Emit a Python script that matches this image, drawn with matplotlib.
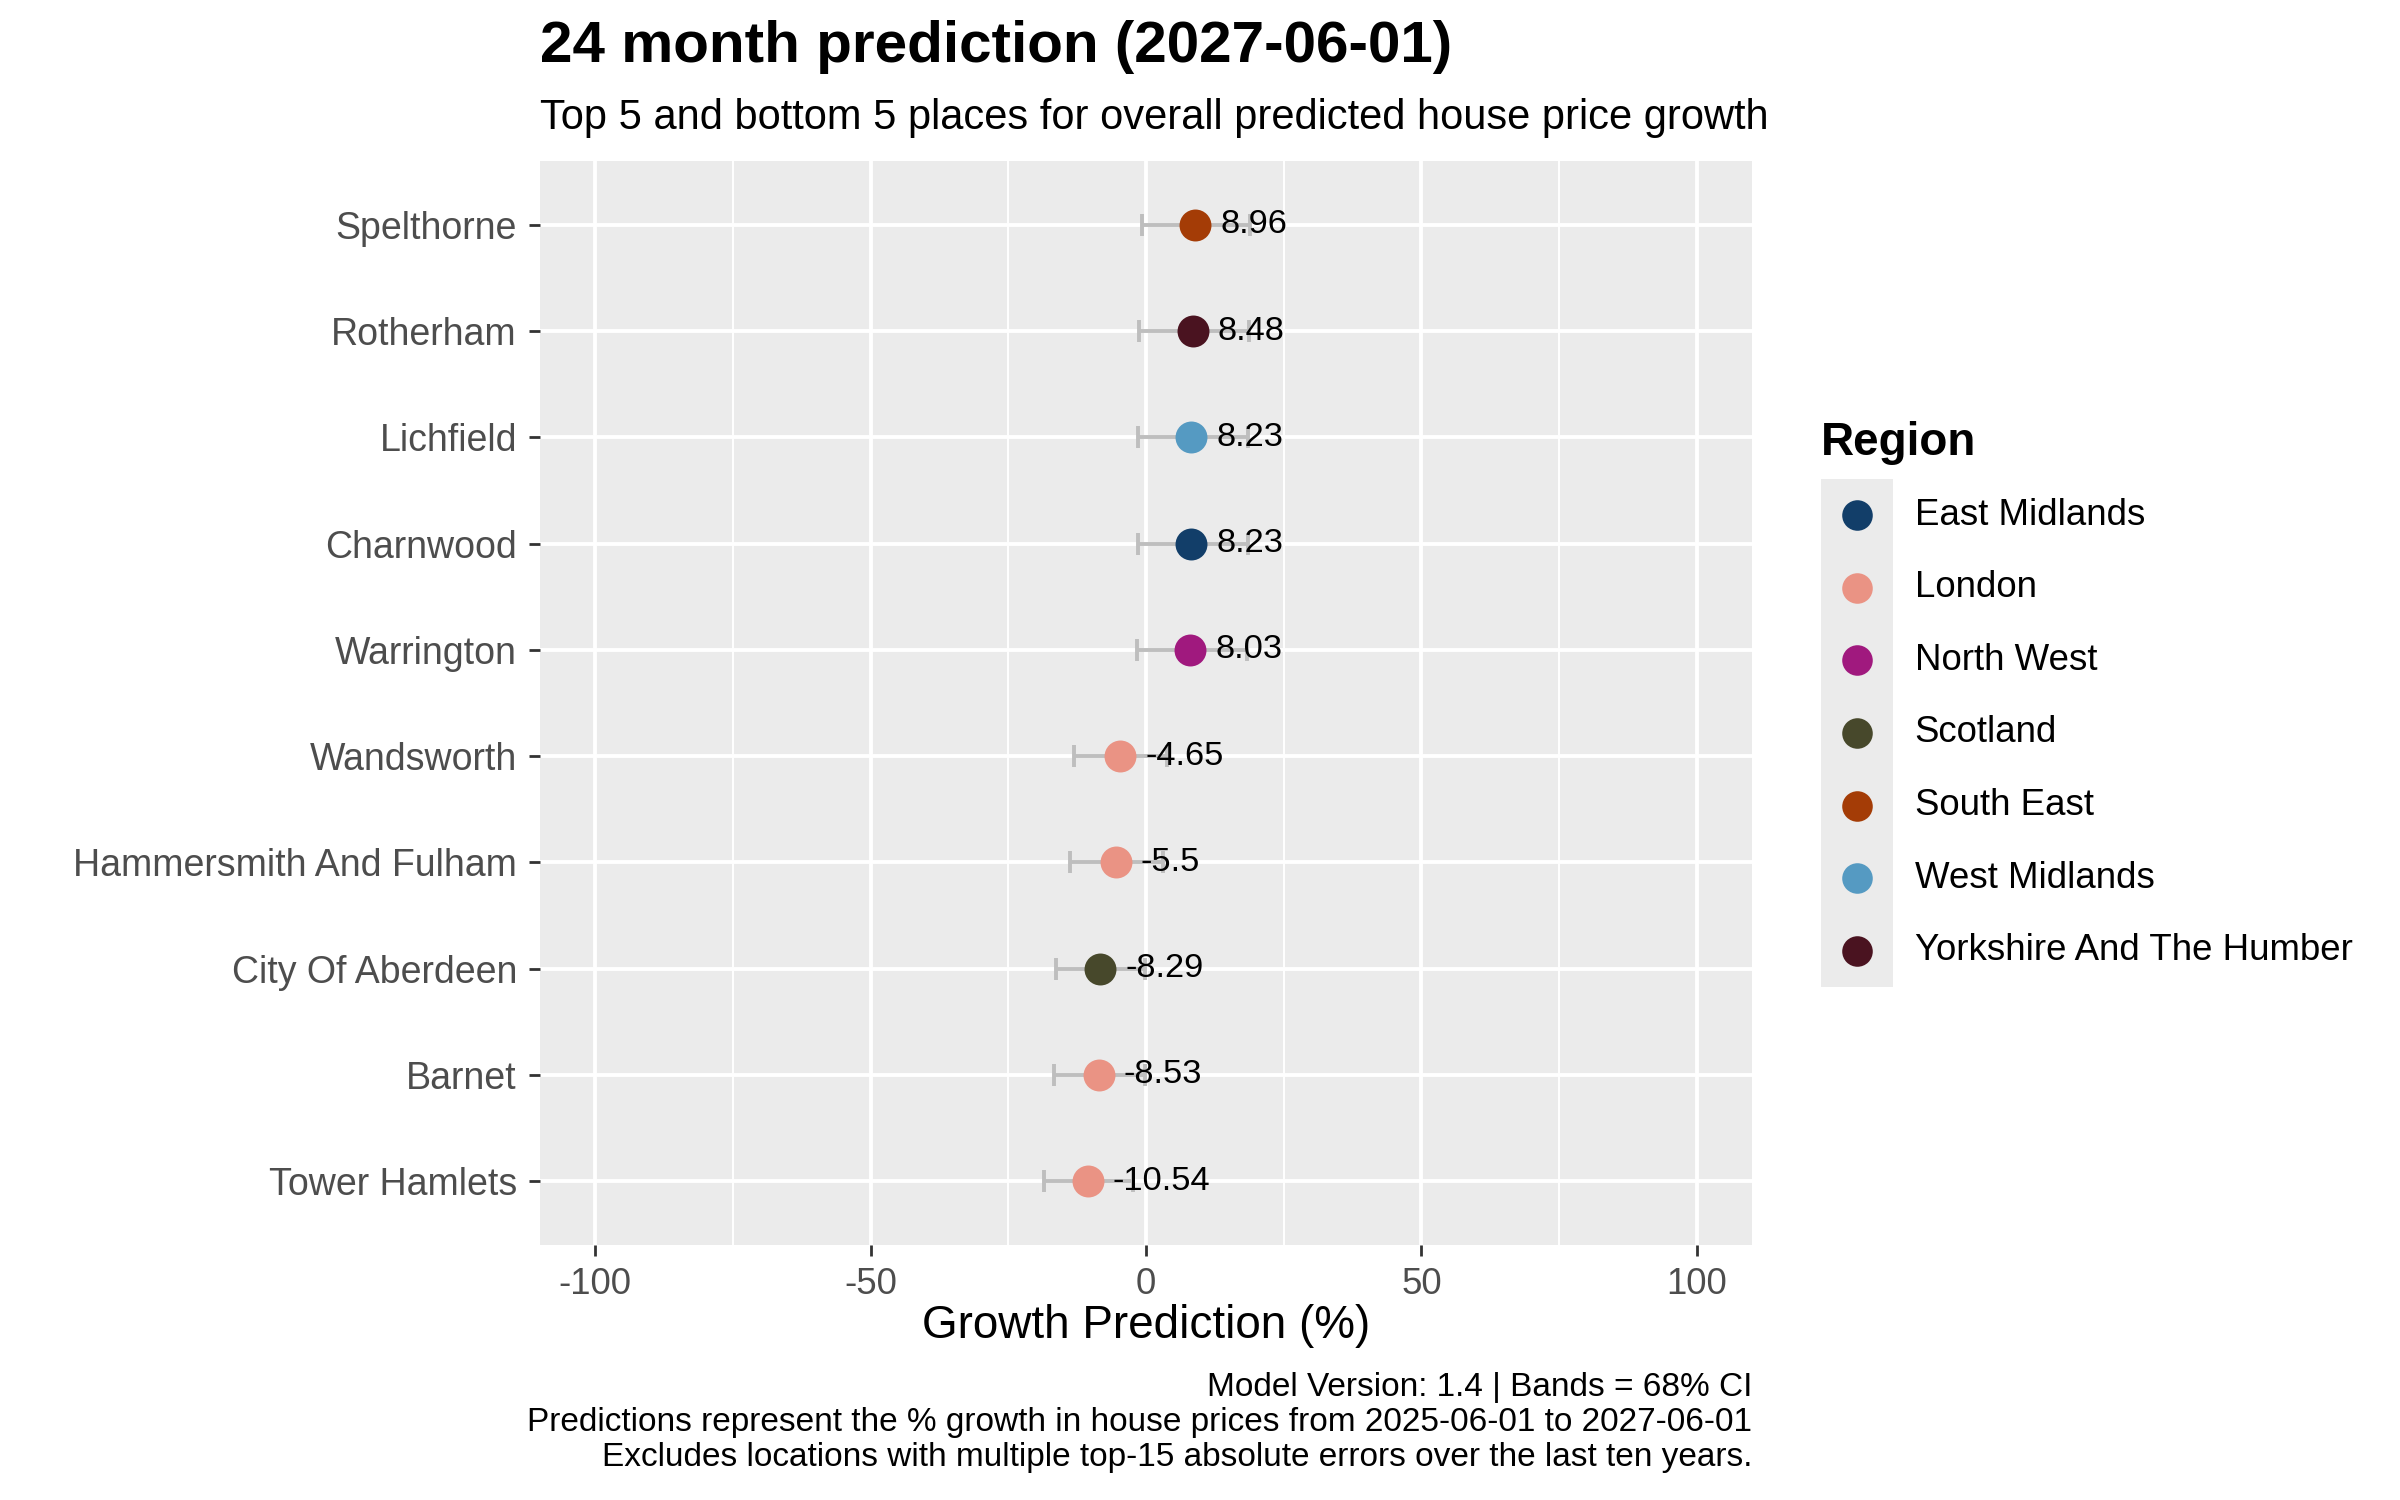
#!/usr/bin/env python

# Top/bottom 5 places for predicted house price growth, ggplot-ish look

import matplotlib
matplotlib.use('Agg')
import matplotlib.pyplot as plt

# Data, top of chart first
places = ['Spelthorne', 'Rotherham', 'Lichfield', 'Charnwood', 'Warrington',
          'Wandsworth', 'Hammersmith And Fulham', 'City Of Aberdeen',
          'Barnet', 'Tower Hamlets']
growth = [8.96, 8.48, 8.23, 8.23, 8.03, -4.65, -5.5, -8.29, -8.53, -10.54]
lower = [-0.8, -1.2, -1.5, -1.5, -1.6, -13.1, -13.8, -16.4, -16.7, -18.5]
upper = [18.8, 18.7, 18.6, 18.6, 18.3, 3.9, 3.0, -0.1, -0.2, -2.3]
place_region = ['South East', 'Yorkshire And The Humber', 'West Midlands',
                'East Midlands', 'North West', 'London', 'London', 'Scotland',
                'London', 'London']
labels = ['8.96', '8.48', '8.23', '8.23', '8.03',
          '-4.65', '-5.5', '-8.29', '-8.53', '-10.54']

regions = ['East Midlands', 'London', 'North West', 'Scotland',
           'South East', 'West Midlands', 'Yorkshire And The Humber']
region_colours = ['#123E69', '#EA9384', '#A0197E', '#47482B',
                  '#A43C06', '#559AC2', '#4A1320']
x_ticks = [-100, -50, 0, 50, 100]
x_minor = [-75, -25, 25, 75]

title = '24 month prediction (2027-06-01)'
subtitle = 'Top 5 and bottom 5 places for overall predicted house price growth'
x_title = 'Growth Prediction (%)'
caption = ['Model Version: 1.4 | Bands = 68% CI',
           'Predictions represent the % growth in house prices from 2025-06-01 to 2027-06-01',
           'Excludes locations with multiple top-15 absolute errors over the last ten years.']

plt.rcParams['font.family'] = ['Liberation Sans', 'DejaVu Sans']

W, H = 2400, 1500
fig = plt.figure(figsize=(12, 7.5), dpi=200, facecolor='white')

# panel in pixel coords
px0, px1, py0, py1 = 540, 1752, 161, 1245
ax = fig.add_axes([px0 / W, 1 - py1 / H, (px1 - px0) / W, (py1 - py0) / H])
ax.set_facecolor('#EBEBEB')
for s in ax.spines.values():
    s.set_visible(False)

ypos = list(range(len(places)))
ax.set_xlim(-110, 110)
ax.set_ylim(len(places) - 0.4, -0.6)

# grid
for xv in x_minor:
    ax.axvline(xv, color='white', lw=0.7, zorder=0)
for xv in x_ticks:
    ax.axvline(xv, color='white', lw=1.4, zorder=0)
for yv in ypos:
    ax.axhline(yv, color='white', lw=1.4, zorder=0)

ax.set_xticks(x_ticks)
ax.set_xticklabels([str(v) for v in x_ticks])
ax.set_yticks(ypos)
ax.set_yticklabels(places)
ax.tick_params(axis='both', length=4, width=1.0, color='#333333',
               labelcolor='#4D4D4D', labelsize=13.2)
ax.tick_params(axis='y', pad=4.3, labelsize=13.5)
ax.tick_params(axis='x', pad=4)
ax.set_xlabel(x_title, fontsize=16.5, color='black', labelpad=0.5)

# error bars
for i in ypos:
    ax.errorbar(growth[i], i,
                xerr=[[growth[i] - lower[i]], [upper[i] - growth[i]]],
                fmt='none', ecolor='#BEBEBE', elinewidth=1.4,
                capsize=3.8, capthick=1.4, zorder=2)

# points
cmap = dict(zip(regions, region_colours))
for i in ypos:
    ax.plot(growth[i], i, 'o', ms=11.5, color=cmap[place_region[i]],
            mec='none', zorder=3)
    ax.text(growth[i] + 4.5, i, labels[i], fontsize=12.4, color='black',
            ha='left', va='center', zorder=4)

# titles
fig.text(px0 / W, 1 - 62 / H, title, fontsize=21, fontweight='bold',
         ha='left', va='baseline')
fig.text(px0 / W, 1 - 129 / H, subtitle, fontsize=15,
         ha='left', va='baseline')

# caption, right aligned to panel
for k, line in enumerate(caption):
    fig.text(px1 / W, 1 - (1396 + 35 * k) / H, line, fontsize=12.0,
             ha='right', va='baseline')

# legend drawn in its own little axes
lx0, lx1, ly0, ly1 = 1821, 1893, 479, 987
lax = fig.add_axes([lx0 / W, 1 - ly1 / H, (lx1 - lx0) / W, (ly1 - ly0) / H])
lax.set_facecolor('#EBEBEB')
for s in lax.spines.values():
    s.set_visible(False)
lax.set_xticks([])
lax.set_yticks([])
lax.set_xlim(0, 1)
lax.set_ylim(len(regions) - 0.5, -0.5)
for k, reg in enumerate(regions):
    lax.plot(0.5, k, 'o', ms=11, color=region_colours[k], mec='none')
    lax.text(1.3, k, reg, fontsize=13.2, ha='left', va='center',
             clip_on=False)
fig.text(lx0 / W, 1 - 455 / H, 'Region', fontsize=16.5, fontweight='bold',
         ha='left', va='baseline')

fig.savefig('out.png', dpi=200, facecolor='white')
